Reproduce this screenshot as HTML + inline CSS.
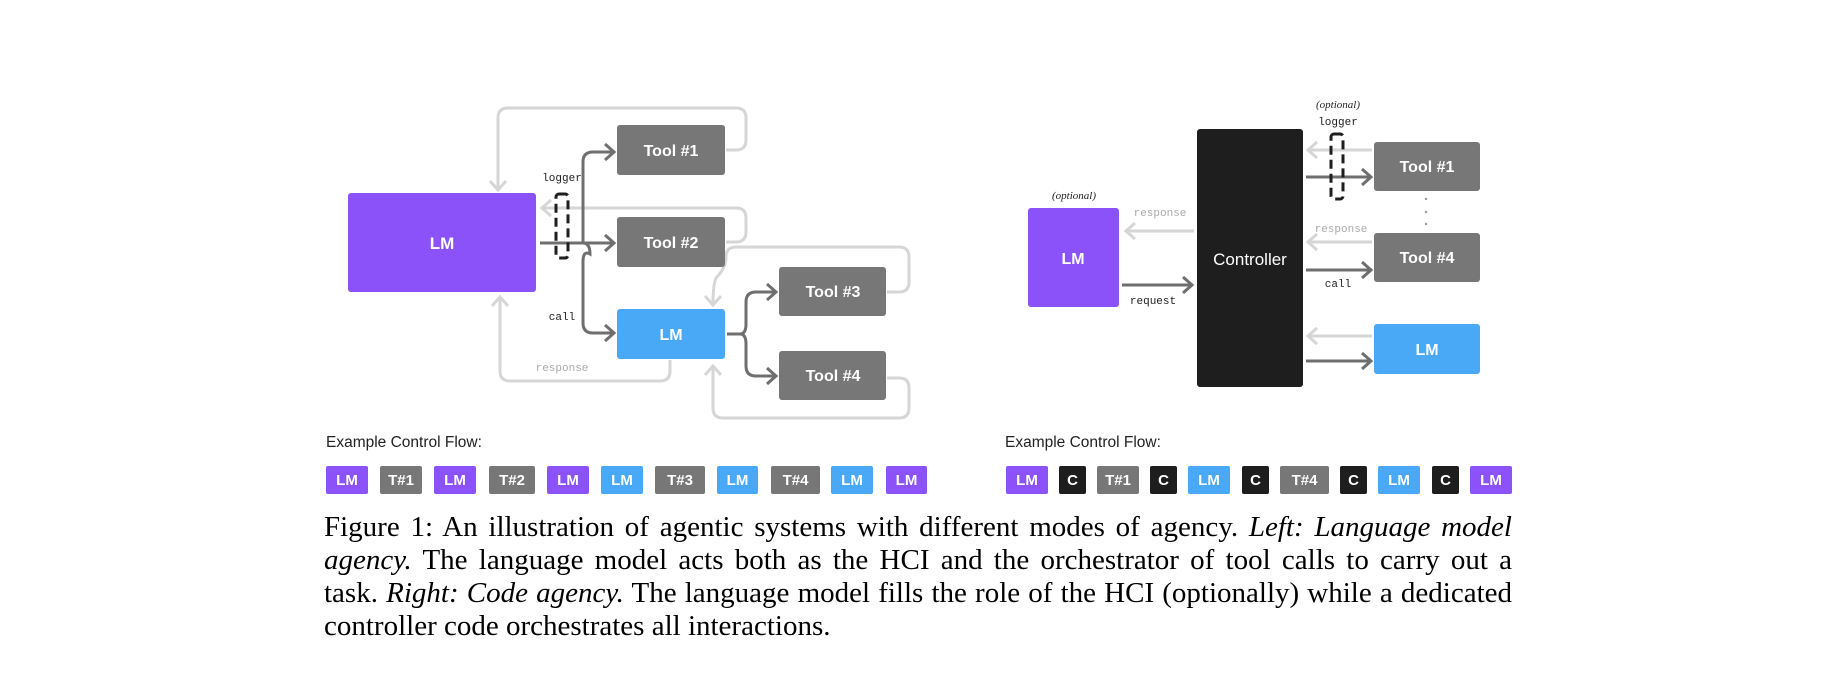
<!DOCTYPE html>
<html><head><meta charset="utf-8"><style>
html,body{margin:0;padding:0;background:#fff;width:1836px;height:690px;overflow:hidden;position:relative}
svg{position:absolute;left:0;top:0}
.cap{position:absolute;left:324px;top:511px;width:1188px;font-family:"Liberation Serif",serif;font-size:29px;line-height:33px;color:#000}
.cap div{text-align:justify;text-align-last:justify;white-space:nowrap}
.cap div.last{text-align-last:left}
</style></head><body>
<svg width="1836" height="690" viewBox="0 0 1836 690" font-family="Liberation Sans, sans-serif">
<defs>
<marker id="ad" markerWidth="14" markerHeight="20" refX="11" refY="10" orient="auto" markerUnits="userSpaceOnUse"><path d="M2,2 L11,10 L2,18" fill="none" stroke="#6f6f6f" stroke-width="3"/></marker>
<marker id="al" markerWidth="14" markerHeight="20" refX="11" refY="10" orient="auto" markerUnits="userSpaceOnUse"><path d="M2,2 L11,10 L2,18" fill="none" stroke="#d6d6d6" stroke-width="3"/></marker>
</defs>
<g fill="none" stroke="#d6d6d6" stroke-width="3">
<path d="M726,150 H736 Q746,150 746,140 V118 Q746,108 736,108 H508 Q498,108 498,118 V190" marker-end="url(#al)"/>
<path d="M726,242 H736 Q746,242 746,232 V218 Q746,208 736,208 H542" marker-end="url(#al)"/>
<path d="M887,292 H899 Q909,292 909,282 V257 Q909,247 899,247 H736 Q726,247 726,257 Q726,268 716,278 Q713,284 713,305" marker-end="url(#al)"/>
<path d="M887,378 H899 Q909,378 909,388 V408 Q909,418 899,418 H723 Q713,418 713,408 V366" marker-end="url(#al)"/>
<path d="M670,360 V371 Q670,381 660,381 H510 Q500,381 500,371 V297" marker-end="url(#al)"/>
<path d="M1194,231 H1126" marker-end="url(#al)"/>
<path d="M1372,150 H1308" marker-end="url(#al)"/>
<path d="M1372,242 H1308" marker-end="url(#al)"/>
<path d="M1372,336 H1308" marker-end="url(#al)"/>
</g>
<g fill="none" stroke="#6f6f6f" stroke-width="3">
<path d="M540,243 H583"/>
<path d="M583,243 Q583,243 583,232 V162 Q583,152 593,152 H614" marker-end="url(#ad)"/>
<path d="M583,243 H614" marker-end="url(#ad)"/>
<path d="M583,243 Q590,243 590,254 Q583,250 583,262 V323 Q583,333 593,333 H614" marker-end="url(#ad)"/>
<path d="M727,334 H740 Q746,334 746,324 V302 Q746,292 756,292 H776" marker-end="url(#ad)"/>
<path d="M740,334 Q746,334 746,344 V366 Q746,376 756,376 H776" marker-end="url(#ad)"/>
<path d="M1122,285 H1192" marker-end="url(#ad)"/>
<path d="M1306,177 H1371" marker-end="url(#ad)"/>
<path d="M1306,270 H1371" marker-end="url(#ad)"/>
<path d="M1306,361 H1371" marker-end="url(#ad)"/>
</g>
<rect x="556" y="194" width="12" height="64" rx="3" fill="none" stroke="#1e1e1e" stroke-width="3" stroke-dasharray="9,5"/>
<rect x="1331" y="134" width="12" height="65" rx="3" fill="none" stroke="#1e1e1e" stroke-width="3" stroke-dasharray="9,5"/>
<rect x="348" y="193" width="188" height="99" rx="3" fill="#8b52f9"/>
<text x="442" y="249" fill="#fff" font-size="17" font-weight="bold" text-anchor="middle">LM</text>
<g font-size="16" font-weight="bold" fill="#fff" text-anchor="middle">
<rect x="617" y="125" width="108" height="50" rx="3" fill="#777"/><text x="671" y="156">Tool #1</text>
<rect x="617" y="217" width="108" height="50" rx="3" fill="#777"/><text x="671" y="248">Tool #2</text>
<rect x="617" y="309" width="108" height="50" rx="3" fill="#4aa9f7"/><text x="671" y="340">LM</text>
<rect x="779" y="267" width="107" height="49" rx="3" fill="#777"/><text x="833" y="297">Tool #3</text>
<rect x="779" y="351" width="107" height="49" rx="3" fill="#777"/><text x="833" y="381">Tool #4</text>
<rect x="1028" y="208" width="91" height="99" rx="3" fill="#8b52f9"/><text x="1073" y="264">LM</text>
<rect x="1197" y="129" width="106" height="258" rx="3" fill="#1e1e1e"/><text x="1250" y="265" font-weight="normal" font-size="17">Controller</text>
<rect x="1374" y="142" width="106" height="49" rx="3" fill="#777"/><text x="1427" y="172">Tool #1</text>
<rect x="1374" y="233" width="106" height="49" rx="3" fill="#777"/><text x="1427" y="263">Tool #4</text>
<rect x="1374" y="324" width="106" height="50" rx="3" fill="#4aa9f7"/><text x="1427" y="355">LM</text>
</g>
<g fill="#999"><circle cx="1426" cy="199" r="1.2"/><circle cx="1426" cy="212" r="1.2"/><circle cx="1426" cy="224" r="1.2"/></g>
<g font-family="Liberation Mono, monospace" font-size="11" text-anchor="middle" fill="#222">
<text x="562" y="181">logger</text>
<text x="562" y="320">call</text>
<text x="562" y="371" fill="#aaa">response</text>
<text x="1338" y="125">logger</text>
<text x="1160" y="216" fill="#aaa">response</text>
<text x="1153" y="304">request</text>
<text x="1341" y="232" fill="#aaa">response</text>
<text x="1338" y="287">call</text>
</g>
<g font-family="Liberation Serif, serif" font-style="italic" font-size="11" text-anchor="middle" fill="#222">
<text x="1338" y="108">(optional)</text>
<text x="1074" y="199">(optional)</text>
</g>
<g font-size="15.5" fill="#222">
<text x="326" y="447">Example Control Flow:</text>
<text x="1005" y="447">Example Control Flow:</text>
</g>
<g font-size="15" font-weight="bold" fill="#fff" text-anchor="middle">
<rect x="326" y="466" width="42" height="28" rx="2" fill="#8b52f9"/><text x="347" y="485">LM</text>
<rect x="380" y="466" width="42" height="28" rx="2" fill="#777"/><text x="401" y="485">T#1</text>
<rect x="434" y="466" width="42" height="28" rx="2" fill="#8b52f9"/><text x="455" y="485">LM</text>
<rect x="489" y="466" width="46" height="28" rx="2" fill="#777"/><text x="512" y="485">T#2</text>
<rect x="547" y="466" width="42" height="28" rx="2" fill="#8b52f9"/><text x="568" y="485">LM</text>
<rect x="601" y="466" width="42" height="28" rx="2" fill="#4aa9f7"/><text x="622" y="485">LM</text>
<rect x="655" y="466" width="50" height="28" rx="2" fill="#777"/><text x="680" y="485">T#3</text>
<rect x="717" y="466" width="41" height="28" rx="2" fill="#4aa9f7"/><text x="737.5" y="485">LM</text>
<rect x="771" y="466" width="49" height="28" rx="2" fill="#777"/><text x="795.5" y="485">T#4</text>
<rect x="831" y="466" width="42" height="28" rx="2" fill="#4aa9f7"/><text x="852" y="485">LM</text>
<rect x="886" y="466" width="41" height="28" rx="2" fill="#8b52f9"/><text x="906.5" y="485">LM</text>

<rect x="1006" y="466" width="42" height="28" rx="2" fill="#8b52f9"/><text x="1027" y="485">LM</text>
<rect x="1059" y="466" width="27" height="28" rx="2" fill="#1e1e1e"/><text x="1072.5" y="485">C</text>
<rect x="1097" y="466" width="42" height="28" rx="2" fill="#777"/><text x="1118" y="485">T#1</text>
<rect x="1150" y="466" width="27" height="28" rx="2" fill="#1e1e1e"/><text x="1163.5" y="485">C</text>
<rect x="1188" y="466" width="42" height="28" rx="2" fill="#4aa9f7"/><text x="1209" y="485">LM</text>
<rect x="1242" y="466" width="27" height="28" rx="2" fill="#1e1e1e"/><text x="1255.5" y="485">C</text>
<rect x="1280" y="466" width="49" height="28" rx="2" fill="#777"/><text x="1304.5" y="485">T#4</text>
<rect x="1340" y="466" width="27" height="28" rx="2" fill="#1e1e1e"/><text x="1353.5" y="485">C</text>
<rect x="1378" y="466" width="42" height="28" rx="2" fill="#4aa9f7"/><text x="1399" y="485">LM</text>
<rect x="1432" y="466" width="27" height="28" rx="2" fill="#1e1e1e"/><text x="1445.5" y="485">C</text>
<rect x="1470" y="466" width="42" height="28" rx="2" fill="#8b52f9"/><text x="1491" y="485">LM</text>
</g>
</svg>
<div class="cap">
<div>Figure 1: An illustration of agentic systems with different modes of agency. <i>Left: Language model</i></div>
<div><i>agency.</i> The language model acts both as the HCI and the orchestrator of tool calls to carry out a</div>
<div>task. <i>Right: Code agency.</i> The language model fills the role of the HCI (optionally) while a dedicated</div>
<div class="last">controller code orchestrates all interactions.</div>
</div>
</body></html>
